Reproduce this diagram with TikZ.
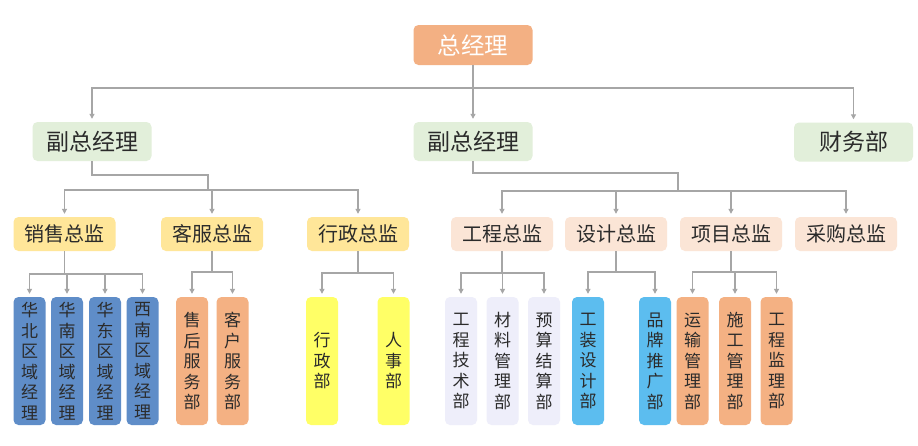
\documentclass[tikz,border=0pt]{standalone}
\usepackage{fontspec}
\setmainfont{Noto Sans CJK SC}
\usetikzlibrary{arrows.meta}
\definecolor{cTop}{HTML}{F3B083}
\definecolor{cGreen}{HTML}{E2EFDA}
\definecolor{cGold}{HTML}{FFE699}
\definecolor{cPeach}{HTML}{FBE5D6}
\definecolor{cBlue}{HTML}{5F8DC8}
\definecolor{cSalmon}{HTML}{F4B183}
\definecolor{cYellow}{HTML}{FFFF66}
\definecolor{cLav}{HTML}{EEEEFA}
\definecolor{cSky}{HTML}{5CBDEF}
\definecolor{cTxt}{HTML}{2B2B2B}
\definecolor{cLine}{HTML}{A6A6A6}
\tikzset{
  box/.style={rounded corners=5pt, inner sep=0pt, text=cTxt, font=\fontsize{20}{24}\selectfont},
  lvtwo/.style={box, fill=cGreen, minimum width=119pt, minimum height=39pt, font=\fontsize{23}{26}\selectfont},
  lvthree/.style={box, minimum width=102pt, minimum height=34pt},
  lvfour/.style={box, minimum width=32pt, minimum height=128pt, align=center, font=\fontsize{17}{20.5}\selectfont},
  ln/.style={draw=cLine, line width=1.1pt},
  arr/.style={ln, -{Triangle[length=5pt,width=5pt]}, shorten >=3pt},
}
\begin{document}
\begin{tikzpicture}[x=1pt,y=-1pt]
\fill[white] (0,0) rectangle (918,445);
\useasboundingbox (0,0) rectangle (918,445);
% level 1
\node[box, fill=cTop, text=white, minimum width=119pt, minimum height=40pt, font=\fontsize{23.5}{26}\selectfont] (ceo) at (473,45) {总经理};
% level 2
\node[lvtwo] (vpL) at (92,141.5) {副总经理};
\node[lvtwo] (vpM) at (473,141.5) {副总经理};
\node[lvtwo] (fin) at (853.5,142) {财务部};
% level 3
\node[lvthree, fill=cGold] (sales) at (64.5,234) {销售总监};
\node[lvthree, fill=cGold] (svc) at (212,234) {客服总监};
\node[lvthree, fill=cGold] (adm) at (358,234) {行政总监};
\node[lvthree, fill=cPeach] (eng) at (502,234) {工程总监};
\node[lvthree, fill=cPeach] (des) at (616,234) {设计总监};
\node[lvthree, fill=cPeach] (prj) at (731,234) {项目总监};
\node[lvthree, fill=cPeach] (pur) at (846,234) {采购总监};
% level 4
\node[lvfour, fill=cBlue] (hb) at (29.5,361) {华\\北\\区\\域\\经\\理};
\node[lvfour, fill=cBlue] (hn) at (67,361) {华\\南\\区\\域\\经\\理};
\node[lvfour, fill=cBlue] (hd) at (105,361) {华\\东\\区\\域\\经\\理};
\node[lvfour, fill=cBlue] (xn) at (142.5,361) {西\\南\\区\\域\\经\\理};
\node[lvfour, fill=cSalmon] (sh) at (192,361) {售\\后\\服\\务\\部};
\node[lvfour, fill=cSalmon] (kh) at (232.5,361) {客\\户\\服\\务\\部};
\node[lvfour, fill=cYellow] (xz) at (322,361) {行\\政\\部};
\node[lvfour, fill=cYellow] (rs) at (393.5,361) {人\\事\\部};
\node[lvfour, fill=cLav] (gj) at (461,361) {工\\程\\技\\术\\部};
\node[lvfour, fill=cLav] (cl) at (502.5,361) {材\\料\\管\\理\\部};
\node[lvfour, fill=cLav] (ys) at (544,361) {预\\算\\结\\算\\部};
\node[lvfour, fill=cSky] (gz) at (588,361) {工\\装\\设\\计\\部};
\node[lvfour, fill=cSky] (pp) at (655,361) {品\\牌\\推\\广\\部};
\node[lvfour, fill=cSalmon] (yx) at (692.5,361) {运\\输\\管\\理\\部};
\node[lvfour, fill=cSalmon] (sg) at (735,361) {施\\工\\管\\理\\部};
\node[lvfour, fill=cSalmon] (jl) at (776.5,361) {工\\程\\监\\理\\部};
% connectors level 1 -> 2
\coordinate (b0) at (473,88);
\draw[ln] (ceo.south) -- (b0);
\draw[arr] (b0) -| (vpL.north);
\draw[arr] (b0) -- (vpM.north);
\draw[arr] (b0) -| (fin.north);
% left vp -> level 3
\coordinate (j1) at (208,175);
\coordinate (b1) at (208,190);
\draw[ln] (vpL.south) |- (j1) -- (b1);
\draw[arr] (b1) -| (sales.north);
\draw[arr] (b1) -| (svc.north);
\draw[arr] (b1) -| (adm.north);
% middle vp -> level 3
\coordinate (j2) at (678,173);
\coordinate (b2) at (678,191);
\draw[ln] (vpM.south) |- (j2) -- (b2);
\draw[arr] (b2) -| (eng.north);
\draw[arr] (b2) -| (des.north);
\draw[arr] (b2) -| (prj.north);
\draw[arr] (b2) -| (pur.north);
% sales -> level 4
\coordinate (b3) at (64.5,274);
\draw[ln] (sales.south) -- (b3);
\draw[arr] (b3) -| (hb.north);
\draw[arr] (b3) -| (hn.north);
\draw[arr] (b3) -| (hd.north);
\draw[arr] (b3) -| (xn.north);
% service -> level 4
\coordinate (b4) at (212,272);
\draw[ln] (svc.south) -- (b4);
\draw[arr] (b4) -| (sh.north);
\draw[arr] (b4) -| (kh.north);
% admin -> level 4
\coordinate (b5) at (358,273);
\draw[ln] (adm.south) -- (b5);
\draw[arr] (b5) -| (xz.north);
\draw[arr] (b5) -| (rs.north);
% eng -> level 4
\coordinate (b6) at (502,273);
\draw[ln] (eng.south) -- (b6);
\draw[arr] (b6) -| (gj.north);
\draw[arr] (b6) -| (cl.north);
\draw[arr] (b6) -| (ys.north);
% design -> level 4
\coordinate (b7) at (616,272);
\draw[ln] (des.south) -- (b7);
\draw[arr] (b7) -| (gz.north);
\draw[arr] (b7) -| (pp.north);
% project -> level 4
\coordinate (b8) at (731,272);
\draw[ln] (prj.south) -- (b8);
\draw[arr] (b8) -| (yx.north);
\draw[arr] (b8) -| (sg.north);
\draw[arr] (b8) -| (jl.north);
\end{tikzpicture}
\end{document}
